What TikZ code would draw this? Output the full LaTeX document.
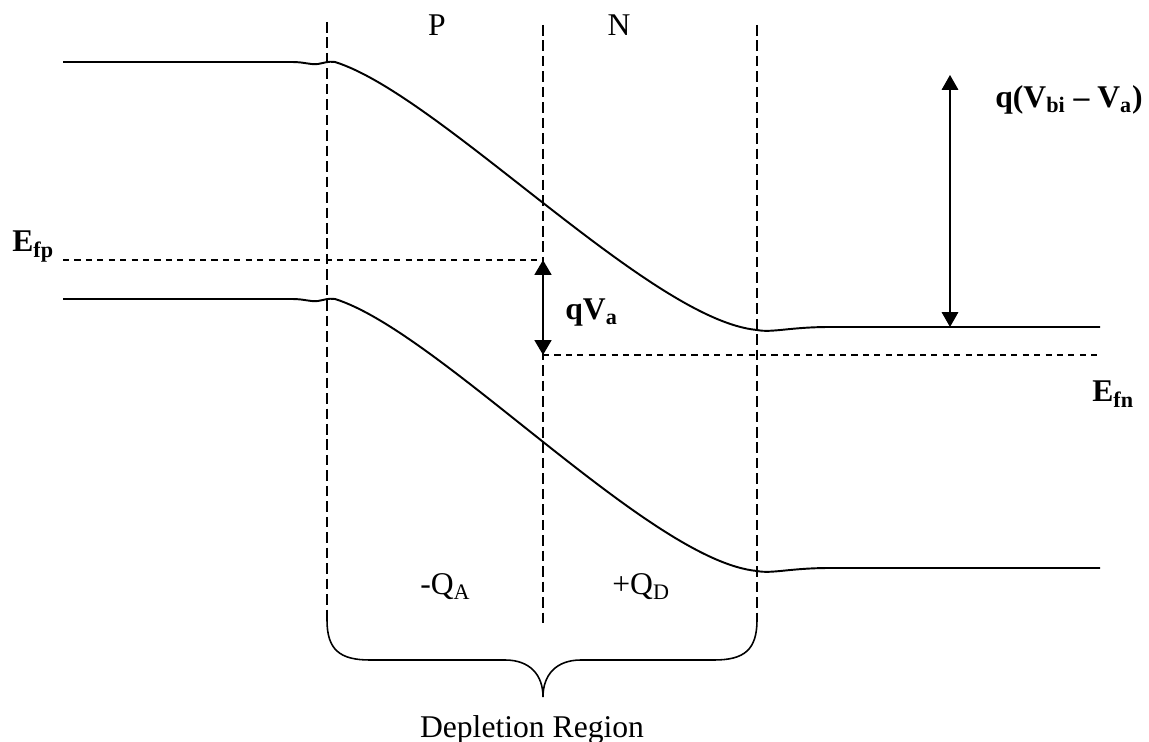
\documentclass[tikz,border=0pt]{standalone}
\usepackage{fontspec}
\setmainfont{Liberation Serif}
\usetikzlibrary{arrows.meta}

\begin{document}
\begin{tikzpicture}[
  x=0.02cm, y=-0.02cm,
  band/.style={line width=1.1pt},
  vdash/.style={line width=1pt, dash pattern=on 6pt off 2.8pt},
  hdash/.style={line width=0.9pt, dash pattern=on 3.5pt off 3pt},
  dbl/.style={{Triangle[length=8.5pt,width=9.5pt]}-{Triangle[length=8.5pt,width=9.5pt]}},
  lbl/.style={font=\fontsize{18}{21}\selectfont, inner sep=0pt},
  blbl/.style={font=\fontsize{18}{21}\selectfont\bfseries, inner sep=0pt}
]
\useasboundingbox (0,0) rectangle (1149,742);

\foreach \dy/\ey in {0/0, 237/241} {
  \draw[band] (63,62+\dy) -- (292,62+\dy) .. controls (305,62+\dy) and (310,65+\dy) .. (318,64+\dy)
    .. controls (324,63+\dy) and (328,61+\dy) .. (335,62+\dy)
    .. controls (440,95+\dy) and (650,320+\ey) .. (757,330+\ey)
    .. controls (772,333+\ey) and (790,327+\ey) .. (830,327+\ey) -- (1100,327+\ey);
}

\coordinate (efp) at (543,260);
\coordinate (efn) at (543,355);
\coordinate (ectop) at (950,75);
\coordinate (ecbot) at (950,327);

\draw[vdash] (327,22) -- (327,615);
\draw[vdash] (543,25) -- (543,625);
\draw[vdash] (757,25) -- (757,615);

\draw[hdash] (63,260) -- (efp);
\draw[hdash] (efn) -- (1100,355);

\draw[dbl, line width=1.6pt] (efp) -- (efn);
\draw[dbl, line width=0.6pt] (ectop) -- (ecbot);

\draw[line width=0.9pt] (327,615) -- (327,620) .. controls (327,650) and (340,660) .. (370,660) -- (505,660)
  .. controls (530,660) and (543,675) .. (543,697)
  .. controls (543,675) and (556,660) .. (581,660) -- (714,660)
  .. controls (744,660) and (757,650) .. (757,620) -- (757,615);

\node[lbl, anchor=base] (p) at (437,36) {P};
\node[lbl, anchor=base] (n) at (619,36) {N};
\node[blbl, anchor=base west] (efplbl) at (12,252) {E\textsubscript{fp}};
\node[blbl, anchor=base west] (efnlbl) at (1092,402) {E\textsubscript{fn}};
\node[blbl, anchor=base west] (qva) at (565,320) {qV\textsubscript{a}};
\node[blbl, anchor=base west] (qvbi) at (995,108) {q(V\textsubscript{bi} – V\textsubscript{a})};
\node[lbl, anchor=base west] (qa) at (420,595) {-Q\textsubscript{A}};
\node[lbl, anchor=base west] (qd) at (612,595) {+Q\textsubscript{D}};
\node[lbl, anchor=base] (depl) at (532,737) {Depletion Region};
\end{tikzpicture}
\end{document}
